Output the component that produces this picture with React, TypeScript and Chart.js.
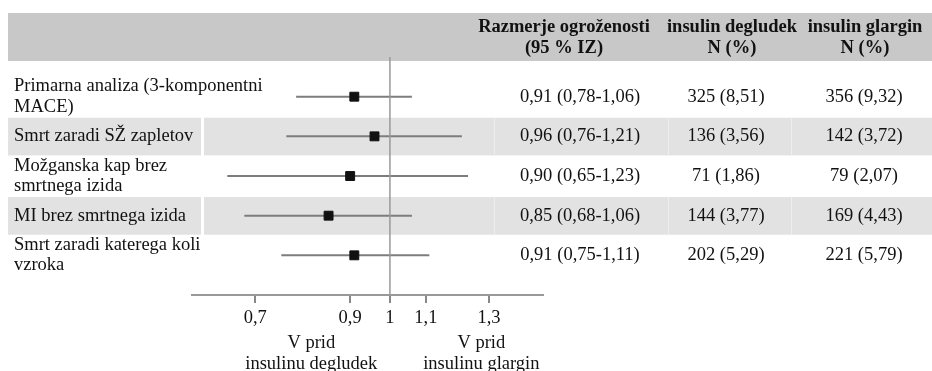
import React, { useEffect, useRef } from "react";
import { Chart, registerables } from "chart.js";

Chart.register(...registerables);

// ---- data ----
const rowLabels: string[][] = [
  ["Primarna analiza (3-komponentni", "MACE)"],
  ["Smrt zaradi SŽ zapletov"],
  ["Možganska kap brez", "smrtnega izida"],
  ["MI brez smrtnega izida"],
  ["Smrt zaradi katerega koli", "vzroka"],
];
const hazardRatio = [0.91, 0.96, 0.9, 0.85, 0.91];
const ciLow = [0.78, 0.76, 0.65, 0.68, 0.75];
const ciHigh = [1.06, 1.21, 1.23, 1.06, 1.11];
const degludekN = [325, 136, 71, 144, 202];
const degludekPct = [8.51, 3.56, 1.86, 3.77, 5.29];
const glarginN = [356, 142, 79, 169, 221];
const glarginPct = [9.32, 3.72, 2.07, 4.43, 5.79];
const xTicks = [0.7, 0.9, 1, 1.1, 1.3];
const headers: string[][] = [
  ["Razmerje ogroženosti", "(95 % IZ)"],
  ["insulin degludek", "N (%)"],
  ["insulin glargin", "N (%)"],
];
const axisNotes: string[][] = [
  ["V prid", "insulinu degludek"],
  ["V prid", "insulinu glargin"],
];

const FONT = '"Liberation Serif", "Times New Roman", serif';
const FS = 18.5;
const fmt = (v: number) => v.toFixed(2).replace(".", ",");

export default function App() {
  const ref = useRef<HTMLCanvasElement>(null);

  useEffect(() => {
    const canvas = ref.current;
    if (!canvas) return;

    const headerX = [564, 732, 865];
    const valueX = [580, 726, 864];
    const shadeRows = [1, 3];

    const tablePlugin = {
      id: "tablePlugin",
      beforeDraw(chart: any) {
        const ctx = chart.ctx;
        const area = chart.chartArea;
        const ys = chart.scales.y;
        ctx.save();
        // header band
        ctx.fillStyle = "#c8c8c8";
        ctx.fillRect(8, 13, 932 - 8, area.top - 13);
        // shaded rows
        for (const r of shadeRows) {
          const t = ys.getPixelForValue(r - 0.47);
          const b = ys.getPixelForValue(r + 0.48);
          ctx.fillStyle = "#e2e2e2";
          ctx.fillRect(8, t, 201 - 8, b - t);
          ctx.fillRect(204, t, 932 - 204, b - t);
          ctx.fillStyle = "#eeeeee";
          for (const gx of [494, 668, 791]) ctx.fillRect(gx, t, 1, b - t);
        }
        ctx.restore();
      },
      afterDraw(chart: any) {
        const ctx = chart.ctx;
        const ys = chart.scales.y;
        const xs = chart.scales.x;
        ctx.save();
        ctx.fillStyle = "#111";
        // headers
        ctx.font = `bold ${FS}px ${FONT}`;
        ctx.textAlign = "center";
        ctx.textBaseline = "alphabetic";
        headers.forEach((h, c) => {
          h.forEach((line, k) => ctx.fillText(line, headerX[c], 32 + k * 20.5));
        });
        // rows
        ctx.font = `${FS}px ${FONT}`;
        ctx.textBaseline = "middle";
        rowLabels.forEach((lines, i) => {
          const cy = ys.getPixelForValue(i);
          ctx.textAlign = "left";
          const n = lines.length;
          lines.forEach((line, k) => {
            ctx.fillText(line, 14, cy + (k - (n - 1) / 2) * 20.5);
          });
          ctx.textAlign = "center";
          ctx.fillText(
            `${fmt(hazardRatio[i])} (${fmt(ciLow[i])}-${fmt(ciHigh[i])})`,
            valueX[0],
            cy
          );
          ctx.fillText(`${degludekN[i]} (${fmt(degludekPct[i])})`, valueX[1], cy);
          ctx.fillText(`${glarginN[i]} (${fmt(glarginPct[i])})`, valueX[2], cy);
        });
        // axis notes
        ctx.textAlign = "center";
        ctx.textBaseline = "alphabetic";
        const noteX = [xs.getPixelForValue(0.812), xs.getPixelForValue(1.274)];
        axisNotes.forEach((lines, c) => {
          lines.forEach((line, k) => ctx.fillText(line, noteX[c], 348 + k * 21));
        });
        ctx.restore();
      },
    };

    const rows = hazardRatio.map((_, i) => i);

    const datasets: any[] = [
      {
        label: "HR",
        data: rows.map((i) => ({ x: hazardRatio[i], y: i })),
        pointStyle: "rect",
        pointRadius: 6.3,
        backgroundColor: "#111",
        borderColor: "#111",
        borderWidth: 1,
        order: 0,
        clip: false,
      },
      {
        label: "ref",
        data: [
          { x: 1, y: -1 },
          { x: 1, y: 5 },
        ],
        showLine: true,
        pointRadius: 0,
        borderColor: "#999",
        borderWidth: 1.5,
        order: 1,
        clip: false,
      },
      ...rows.map((i) => ({
        label: "ci" + i,
        data: [
          { x: ciLow[i], y: i },
          { x: ciHigh[i], y: i },
        ],
        showLine: true,
        pointRadius: 0,
        borderColor: "#7d7d7d",
        borderWidth: 2,
        order: 2,
        clip: false,
      })),
    ];

    const chart = new Chart(canvas, {
      type: "scatter",
      data: { datasets },
      options: {
        animation: false,
        responsive: false,
        events: [],
        layout: { padding: { left: 192, right: 389, top: 61, bottom: 0 } },
        plugins: { legend: { display: false }, tooltip: { enabled: false } },
        scales: {
          x: {
            type: "logarithmic",
            min: 0.592,
            max: 1.5,
            afterBuildTicks: (scale: any) => {
              scale.ticks = xTicks.map((v) => ({ value: v }));
            },
            afterFit: (scale: any) => {
              scale.height = 76;
            },
            ticks: {
              autoSkip: false,
              maxRotation: 0,
              padding: 4,
              color: "#111",
              font: { family: FONT, size: FS },
              callback: (v: any) => String(v).replace(".", ","),
            },
            grid: {
              drawOnChartArea: false,
              drawTicks: true,
              tickLength: 8,
              color: "#888",
              lineWidth: 2,
            },
            border: { display: true, color: "#999", width: 2 },
          },
          y: {
            type: "linear",
            display: false,
            reverse: true,
            min: -0.9,
            max: 5,
          },
        },
      } as any,
      plugins: [tablePlugin],
    });

    return () => chart.destroy();
  }, []);

  return (
    <div style={{ position: "fixed", left: 0, top: 0, width: 932, height: 371, background: "#fff" }}>
      <canvas ref={ref} width={932} height={371} style={{ display: "block" }} />
    </div>
  );
}
